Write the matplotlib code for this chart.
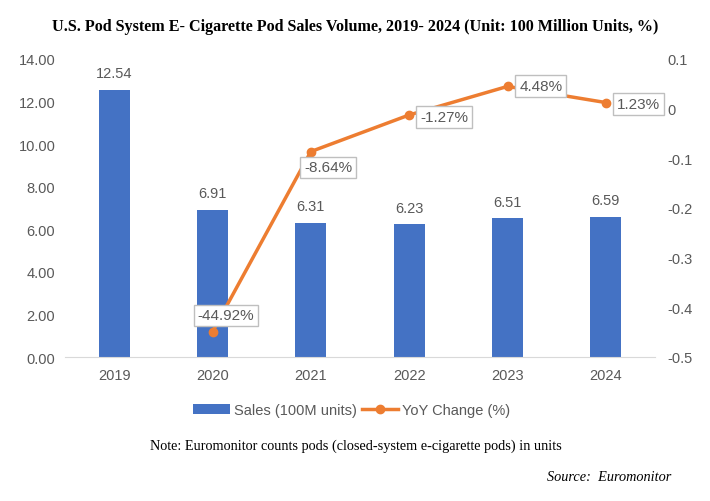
import matplotlib
matplotlib.use("Agg")
import matplotlib.pyplot as plt
import numpy as np

years = ["2019", "2020", "2021", "2022", "2023", "2024"]
sales = [12.54, 6.91, 6.31, 6.23, 6.51, 6.59]
yoy_years = ["2020", "2021", "2022", "2023", "2024"]
yoy = [-0.4492, -0.0864, -0.0127, 0.0448, 0.0123]
yoy_labels = ["-44.92%", "-8.64%", "-1.27%", "4.48%", "1.23%"]

blue = "#4472C4"
orange = "#ED7D31"
gray = "#595959"

plt.rcParams["font.family"] = ["Liberation Sans", "DejaVu Sans"]

fig = plt.figure(figsize=(7.1, 5.02), dpi=100)
ax = fig.add_axes([65 / 710, 1 - 358 / 502, (655 - 65) / 710, (358 - 60) / 502])
ax2 = ax.twinx()

x = np.arange(len(years))
bars = ax.bar(x, sales, width=0.315, color=blue, label="Sales (100M units)", zorder=2)
for xi, v in zip(x, sales):
    ax.text(xi, v + 0.45, f"{v:.2f}", ha="center", va="bottom", fontsize=10.5, color=gray)

ax.set_xlim(-0.5, len(years) - 0.5)
ax.set_ylim(0, 14)
ax.set_yticks(np.arange(0, 14.01, 2))
ax.set_yticklabels([f"{t:.2f}" for t in np.arange(0, 14.01, 2)])
ax.set_xticks(x)
ax.set_xticklabels(years)
for s in ["top", "left", "right"]:
    ax.spines[s].set_visible(False)
ax.spines["bottom"].set_color("#D9D9D9")
ax.tick_params(axis="both", length=0, labelsize=10.5, colors=gray)
ax.tick_params(axis="x", pad=8)
ax.tick_params(axis="y", pad=7)

xl = [years.index(y) for y in yoy_years]
line, = ax2.plot(xl, yoy, color=orange, lw=2.5, marker="o", ms=6, label="YoY Change (%)", zorder=3)
ax2.set_ylim(-0.5, 0.1)
ax2.set_yticks([0.1, 0, -0.1, -0.2, -0.3, -0.4, -0.5])
ax2.set_yticklabels(["0.1", "0", "-0.1", "-0.2", "-0.3", "-0.4", "-0.5"])
for s in ax2.spines.values():
    s.set_visible(False)
ax2.tick_params(axis="y", length=0, labelsize=10.5, colors=gray, pad=9)

box = dict(boxstyle="square,pad=0.25", fc="white", ec="#BFBFBF", lw=1)
offsets = [(-0.15, 0.033), (-0.07, -0.032), (0.11, -0.004), (0.12, 0.001), (0.11, -0.003)]
for xi, v, lab, (dx, dy) in zip(xl, yoy, yoy_labels, offsets):
    ax2.text(xi + dx, v + dy, lab, ha="left", va="center", fontsize=11, color=gray, bbox=box, zorder=4)

fig.legend(handles=[bars, line], loc="center", bbox_to_anchor=(352 / 710, 1 - 411 / 502),
           ncol=2, frameon=False, fontsize=10.5, labelcolor=gray, handlelength=2.5,
           columnspacing=0.3, handletextpad=0.3)

fig.text(355 / 710, 1 - 27 / 502, "U.S. Pod System E- Cigarette Pod Sales Volume, 2019- 2024 (Unit: 100 Million Units, %)",
         ha="center", va="center", fontsize=11.6, fontweight="bold", family="Liberation Serif")
fig.text(356 / 710, 1 - 446 / 502, "Note: Euromonitor counts pods (closed-system e-cigarette pods) in units",
         ha="center", va="center", fontsize=10.3, family="Liberation Serif")
fig.text(671 / 710, 1 - 478 / 502, "Source:  Euromonitor", ha="right", va="center",
         fontsize=10.3, style="italic", family="Liberation Serif")

fig.savefig("out.png", dpi=100)
